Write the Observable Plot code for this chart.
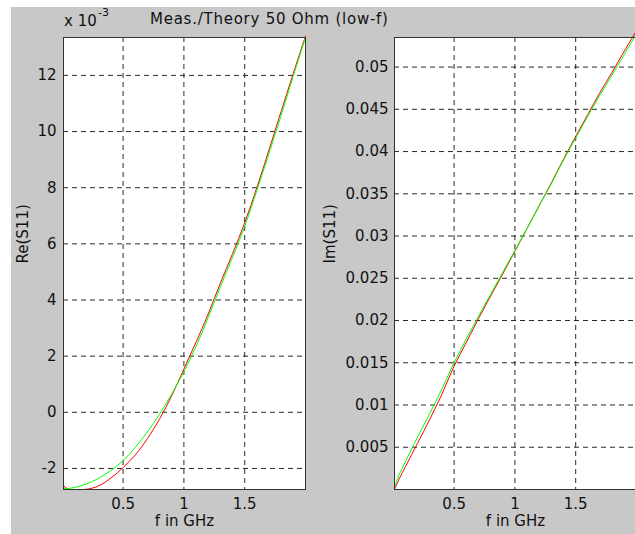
<!DOCTYPE html>
<html>
<head>
<meta charset="utf-8">
<script src="https://cdn.jsdelivr.net/npm/d3@7"></script>
<script src="https://cdn.jsdelivr.net/npm/@observablehq/plot@0.6"></script>
<style>
  html, body { margin: 0; padding: 0; background: #fff; }
  body { width: 635px; height: 534px; position: relative; overflow: hidden; font-family: "DejaVu Sans", sans-serif; }
  #bg { position: absolute; left: 11px; top: 7px; right: 0; bottom: 0; background: #c8c8c8; }
  .panel { position: absolute; top: 0; height: 534px; }
  .panel svg { max-width: none !important; display: block; }
  .txt { position: absolute; color: #111; white-space: nowrap; }
</style>
</head>
<body>
<div id="bg"></div>
<div class="txt" style="left:150px; top:10px; font-size:15px; letter-spacing:0.75px;">Meas./Theory 50 Ohm (low-f)</div>
<div class="txt" style="left:64px; top:12px; font-size:15px;">x 10</div>
<div class="txt" style="left:98px; top:6px; font-size:11px;">-3</div>
<div id="left" class="panel" style="left:0px; width:320px;"></div>
<div id="right" class="panel" style="left:320px; width:330px;"></div>
<script>
// ---- data ----
const freq = [0.01, 0.05, 0.1, 0.2, 0.3, 0.4, 0.5, 0.6, 0.7, 0.8, 0.9, 1.0, 1.1, 1.2, 1.3, 1.4, 1.5, 1.6, 1.7, 1.8, 1.9, 2.0];
// Re(S11) in units of 1e-3
const reMeas   = [-2.62, -2.74, -2.75, -2.74, -2.62, -2.34, -1.97, -1.52, -0.94, -0.24, 0.59, 1.54, 2.50, 3.50, 4.60, 5.65, 6.75, 8.00, 9.35, 10.72, 12.08, 13.40];
const reTheory = [-2.72, -2.71, -2.68, -2.55, -2.35, -2.07, -1.72, -1.25, -0.70, -0.07, 0.65, 1.45, 2.35, 3.38, 4.47, 5.52, 6.62, 7.90, 9.22, 10.58, 11.98, 13.35];
// Im(S11)
const imMeas   = [0.0000, 0.0013, 0.0027, 0.0055, 0.0083, 0.0113, 0.0146, 0.0174, 0.0202, 0.0229, 0.0255, 0.0282, 0.0309, 0.0336, 0.0363, 0.0391, 0.0418, 0.0444, 0.0470, 0.0494, 0.0519, 0.0543];
const imTheory = [0.0003, 0.0018, 0.0033, 0.0062, 0.0090, 0.0119, 0.0150, 0.0178, 0.0205, 0.0231, 0.0257, 0.0283, 0.0309, 0.0336, 0.0362, 0.0390, 0.0416, 0.0442, 0.0467, 0.0491, 0.0515, 0.0540];

const xTicks = [0.5, 1, 1.5];
const reTicks = [-2, 0, 2, 4, 6, 8, 10, 12];
const imTicks = [0.005, 0.01, 0.015, 0.02, 0.025, 0.03, 0.035, 0.04, 0.045, 0.05];
const xLabel = "f in GHz";
const reLabel = "Re(S11)";
const imLabel = "Im(S11)";

const toRows = (vals) => freq.map((f, i) => ({f, v: vals[i]}));

function panel({width, marginLeft, marginRight, yDomain, yTicks, yFormat, meas, theory, ylab, ylabDx, yPad}) {
  return Plot.plot({
    width, height: 534,
    marginLeft, marginRight, marginTop: 37, marginBottom: 45,
    style: {background: "transparent", fontFamily: "DejaVu Sans, sans-serif", fontSize: "15px", color: "#111", overflow: "visible"},
    x: {domain: [0.01, 2.0], ticks: xTicks, tickFormat: d => String(d), label: null},
    y: {domain: yDomain, ticks: yTicks, tickFormat: yFormat, label: null},
    marks: [
      Plot.frame({fill: "white", stroke: null}),
      Plot.gridX(xTicks, {stroke: "#111", strokeOpacity: 0.9, strokeDasharray: "5,4", strokeWidth: 1}),
      Plot.gridY(yTicks, {stroke: "#111", strokeOpacity: 0.9, strokeDasharray: "5,4", strokeWidth: 1}),
      Plot.line(toRows(meas), {x: "f", y: "v", stroke: "#ff0000", strokeWidth: 1, curve: "catmull-rom"}),
      Plot.line(toRows(theory), {x: "f", y: "v", stroke: "#00ff00", strokeWidth: 1, curve: "catmull-rom"}),
      Plot.frame({stroke: "#333", strokeWidth: 1}),
      Plot.axisX(xTicks, {tickSize: 0, tickPadding: 9, tickFormat: d => String(d), fill: "#111"}),
      Plot.axisY(yTicks, {tickSize: 0, tickPadding: yPad, tickFormat: yFormat, fill: "#111"}),
      Plot.text([xLabel], {text: d => d, frameAnchor: "bottom", dy: 36, fill: "#111"}),
      Plot.text([ylab], {text: d => d, frameAnchor: "left", dx: ylabDx, rotate: -90, fill: "#111"})
    ]
  });
}

document.getElementById("left").append(panel({
  width: 320, marginLeft: 63, marginRight: 15,
  yDomain: [-2.75, 13.35], yTicks: reTicks, yFormat: d => String(d),
  meas: reMeas, theory: reTheory, ylab: reLabel, ylabDx: -40, yPad: 7
}));

document.getElementById("right").append(panel({
  width: 330, marginLeft: 74, marginRight: 14,
  yDomain: [0, 0.0535], yTicks: imTicks, yFormat: d => String(+d.toFixed(3)),
  meas: imMeas, theory: imTheory, ylab: imLabel, ylabDx: -64, yPad: 6
}));
</script>
</body>
</html>
